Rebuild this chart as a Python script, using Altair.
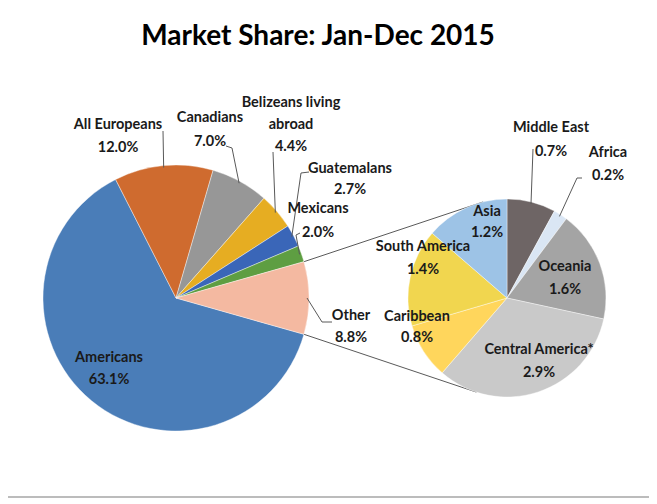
import math
import altair as alt
import pandas as pd

# ---------------- data ----------------
title_text = "Market Share: Jan-Dec 2015"

main_cats = ["Americans", "All Europeans", "Canadians", "Belizeans living abroad",
             "Guatemalans", "Mexicans", "Other"]
main_vals = [63.1, 12.0, 7.0, 4.4, 2.7, 2.0, 8.8]
main_colors = ["#4A7DB8", "#CF6B2F", "#979797", "#E6AD22", "#3A66B8", "#5E9E42", "#F4B9A1"]

sub_cats = ["Middle East", "Africa", "Oceania", "Central America*", "Caribbean",
            "South America", "Asia"]
sub_vals = [0.7, 0.2, 1.6, 2.9, 0.8, 1.4, 1.2]
sub_colors = ["#6E6565", "#DAE6F4", "#A4A4A4", "#C9C9C9", "#FFD65C", "#F1D64F", "#9DC3E6"]

# label line breaks
label_lines = {"Belizeans living abroad": ["Belizeans living", "abroad"]}

# ---------------- layout (pixels) ----------------
M = 8
W, H = 641, 490
CX1, CY1, R1 = 176 - M, 298 - M, 133
CX2, CY2, R2 = 507 - M, 298 - M, 99
FONT = "Lato"
FS = 14.5

# label anchor (page coords): x, first-line y, line spacing
label_pos = {
    "Americans": (109, 358, 22),
    "All Europeans": (118, 125, 23),
    "Canadians": (210, 118, 24),
    "Belizeans living abroad": (291, 103, 22),
    "Guatemalans": (350, 169, 21),
    "Mexicans": (318, 209, 24),
    "Other": (351, 316, 22),
    "Middle East": (551, 128, 24),
    "Africa": (608, 153, 23),
    "Oceania": (565, 267, 23),
    "Central America*": (539, 350, 23),
    "Caribbean": (417, 317, 21),
    "South America": (423, 247, 23),
    "Asia": (487, 212, 21),
}

# leader start points (page coords) -> ends at slice edge
leader_start = {
    "All Europeans": [(163, 131)],
    "Canadians": [(226, 146), (232, 148)],
    "Belizeans living abroad": [(273, 152)],
    "Guatemalans": [(309, 172), (301, 173)],
    "Mexicans": [(300, 233), (296, 235)],
    "Other": [(332, 322), (322, 322)],
    "Middle East": [(533, 149)],
    "Africa": [(582, 178), (577, 178)],
}

# ---------------- derived geometry ----------------
def slice_mids(vals, start):
    tot = sum(vals)
    mids, a = [], start
    for v in vals:
        span = v / tot * 2 * math.pi
        mids.append(a + span / 2)
        a += span
    return mids

other_share = main_vals[-1] / sum(main_vals)
S1 = math.pi / 2 + other_share * math.pi
S2 = 0.0
mids1 = dict(zip(main_cats, slice_mids(main_vals, S1)))
mids2 = dict(zip(sub_cats, slice_mids(sub_vals, S2)))


def edge(cx, cy, r, ang):
    return cx + r * math.sin(ang), cy - r * math.cos(ang)

# ---------------- pies ----------------
main_df = pd.DataFrame({"cat": main_cats, "value": main_vals, "idx": range(len(main_cats))})
sub_df = pd.DataFrame({"cat": sub_cats, "value": sub_vals, "idx": range(len(sub_cats))})

main_pie = alt.Chart(main_df).mark_arc(outerRadius=R1, stroke="white", strokeWidth=0.4).encode(
    theta=alt.Theta("value:Q", stack=True, scale=alt.Scale(range=[S1, S1 + 2 * math.pi])),
    order=alt.Order("idx:Q"),
    color=alt.Color("cat:N", scale=alt.Scale(domain=main_cats, range=main_colors), legend=None),
    x=alt.value(CX1), y=alt.value(CY1),
)
sub_pie = alt.Chart(sub_df).mark_arc(outerRadius=R2, stroke="white", strokeWidth=0.4).encode(
    theta=alt.Theta("value:Q", stack=True, scale=alt.Scale(range=[S2, S2 + 2 * math.pi])),
    order=alt.Order("idx:Q"),
    color=alt.Color("cat:N", scale=alt.Scale(domain=sub_cats, range=sub_colors), legend=None),
    x=alt.value(CX2), y=alt.value(CY2),
)

# ---------------- connector lines (pie of pie) ----------------
o_start = S1 + (1 - other_share) * 2 * math.pi
o_end = S1 + 2 * math.pi
p1 = edge(CX1, CY1, R1, o_start)
p2 = edge(CX1, CY1, R1, o_end)
q1 = edge(CX2, CY2, R2, math.radians(-14))
q2 = edge(CX2, CY2, R2, math.radians(198))
conn_df = pd.DataFrame({"x": [p1[0], p2[0]], "y": [p1[1], p2[1]],
                        "x2": [q1[0], q2[0]], "y2": [q1[1], q2[1]]})
connectors = alt.Chart(conn_df).mark_rule(color="#5A5A5A", strokeWidth=1).encode(
    x=alt.X("x:Q", scale=None), y=alt.Y("y:Q", scale=None),
    x2="x2:Q", y2="y2:Q",
)

# ---------------- leader lines ----------------
rows = []
for cat, pts in leader_start.items():
    k = 0
    for (px, py) in pts:
        rows.append({"id": cat, "k": k, "x": px - M, "y": py - M})
        k += 1
    if cat in mids1:
        ex, ey = edge(CX1, CY1, R1 - 2, mids1[cat])
    else:
        ex, ey = edge(CX2, CY2, R2 - 2, mids2[cat])
    rows.append({"id": cat, "k": k, "x": ex, "y": ey})
lead_df = pd.DataFrame(rows)
leaders = alt.Chart(lead_df).mark_line(color="#595959", strokeWidth=1).encode(
    x=alt.X("x:Q", scale=None), y=alt.Y("y:Q", scale=None),
    detail="id:N", order="k:Q",
)

# ---------------- labels ----------------
lab_rows = []
for cats, vals in ((main_cats, main_vals), (sub_cats, sub_vals)):
    for c, v in zip(cats, vals):
        lx, ly, dy = label_pos[c]
        lines = label_lines.get(c, [c]) + [f"{v:.1f}%"]
        for i, t in enumerate(lines):
            lab_rows.append({"t": t, "x": lx - M, "y": ly - M + i * dy})
lab_df = pd.DataFrame(lab_rows)
labels = alt.Chart(lab_df).mark_text(
    font=FONT, fontSize=FS, fontWeight="bold", color="#1A1A1A", align="center", baseline="middle"
).encode(
    x=alt.X("x:Q", scale=None), y=alt.Y("y:Q", scale=None), text="t:N"
)

title = alt.Chart(pd.DataFrame({"t": [title_text]})).mark_text(
    font=FONT, fontSize=28, fontWeight="bold", color="#000000", align="center", baseline="middle"
).encode(x=alt.value(318 - M), y=alt.value(37 - M), text="t:N")

bottom = alt.Chart(pd.DataFrame({"a": [0]})).mark_rule(color="#A6A6A6", strokeWidth=1.5).encode(
    x=alt.value(0), x2=alt.value(W), y=alt.value(497 - M)
)

chart = alt.layer(connectors, main_pie, sub_pie, leaders, labels, title, bottom).resolve_scale(
    color="independent", theta="independent"
).properties(
    width=W, height=H, autosize=alt.AutoSizeParams(type="none"), padding=0,
    background="white",
).configure_view(stroke=None)

chart.save("out.html", embed_options={"renderer": "svg", "actions": False})
